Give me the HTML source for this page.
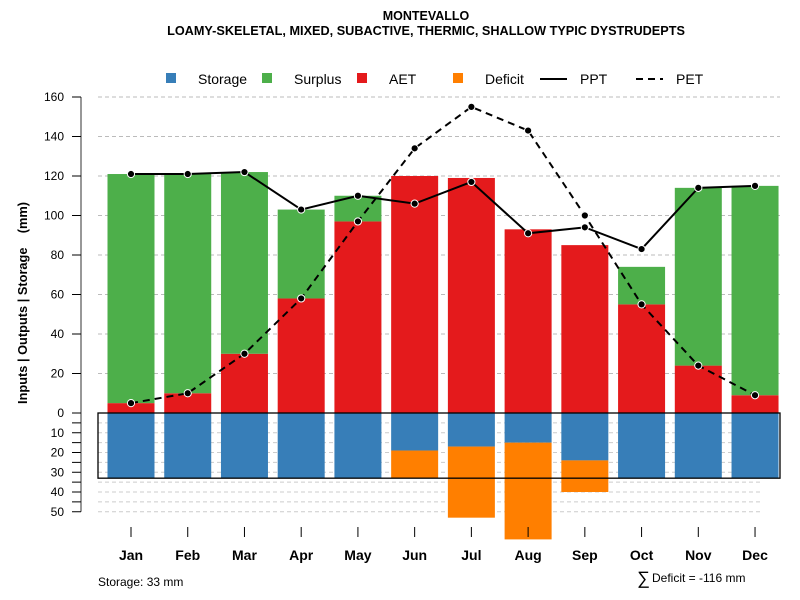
<!DOCTYPE html>
<html><head><meta charset="utf-8"><style>
body{margin:0;background:#fff;}
svg{display:block;font-family:"Liberation Sans",Arial,sans-serif;}
</style></head><body>
<svg id="chart" width="800" height="600">
<text x="426" y="20" font-size="12.5" font-weight="bold" text-anchor="middle">MONTEVALLO</text>
<text x="426" y="35" font-size="12.7" font-weight="bold" text-anchor="middle">LOAMY-SKELETAL, MIXED, SUBACTIVE, THERMIC, SHALLOW TYPIC DYSTRUDEPTS</text>
<g id="grid"></g><g id="bars"></g><g id="lines"></g><g id="axes"></g>
<g font-size="14">
<rect x="166" y="73" width="10" height="10" fill="#377eb8"/>
<text x="198" y="84">Storage</text>
<rect x="262" y="73" width="10" height="10" fill="#4daf4a"/>
<text x="294" y="84">Surplus</text>
<rect x="357" y="73" width="10" height="10" fill="#e41a1c"/>
<text x="389" y="84">AET</text>
<rect x="453" y="73" width="10" height="10" fill="#ff7f00"/>
<text x="485" y="84">Deficit</text>
<line x1="540" y1="79" x2="567" y2="79" stroke="#000" stroke-width="2"/>
<text x="580" y="84">PPT</text>
<line x1="636" y1="79" x2="663" y2="79" stroke="#000" stroke-width="2" stroke-dasharray="7,5"/>
<text x="676" y="84">PET</text>
</g>
<text transform="translate(27,303) rotate(-90)" font-size="12.8" font-weight="bold" text-anchor="middle" style="white-space:pre" xml:space="preserve">Inputs | Outputs | Storage    (mm)</text>
<text x="98" y="586" font-size="12">Storage: 33 mm</text>
<text x="637" y="584" font-size="18">∑</text>
<text x="652" y="582" font-size="12">Deficit = -116 mm</text>
</svg>
<script>
const months=["Jan","Feb","Mar","Apr","May","Jun","Jul","Aug","Sep","Oct","Nov","Dec"];
const aet=[5,10,30,58,97,120,119,93,85,55,24,9];
const surplus=[116,111,92,45,13,0,0,0,0,19,90,106];
const storage=[33,33,33,33,33,19,17,15,24,33,33,33];
const deficit=[0,0,0,0,0,14,36,49,16,0,0,0];
const ppt=[121,121,122,103,110,106,117,91,94,83,114,115];
const pet=[5,10,30,58,97,134,155,143,100,55,24,9];
const upTicks=[0,20,40,60,80,100,120,140,160];
const downTicks=[10,20,30,40,50];
const storageCap=33;
const NS="http://www.w3.org/2000/svg";
const y0=413,k=316/160;
const y=v=>y0-v*k;
const x=i=>131+i*56.73;
const bw=47;
function mk(p,t,a){const e=document.createElementNS(NS,t);for(const n in a)e.setAttribute(n,a[n]);p.appendChild(e);return e;}
const G=document.getElementById('grid'),B=document.getElementById('bars'),L=document.getElementById('lines'),A=document.getElementById('axes');
upTicks.forEach(v=>{const l=mk(G,'line',{x1:98,x2:780,y1:y(v),y2:y(v),stroke:'#bbb','stroke-dasharray':'4,3'});

});
for(let v=5;v<=50;v+=5){const l=mk(G,'line',{x1:98,x2:760,y1:y(-v),y2:y(-v),stroke:'#ccc','stroke-dasharray':'4,3'});

}
months.forEach((m,i)=>{const xl=x(i)-bw/2;
let r=mk(B,'rect',{x:xl,y:y(aet[i]),width:bw,height:aet[i]*k,fill:'#e41a1c'});


r=mk(B,'rect',{x:xl,y:y(aet[i]+surplus[i]),width:bw,height:surplus[i]*k,fill:'#4daf4a'});


r=mk(B,'rect',{x:xl,y:y0,width:bw,height:storage[i]*k,fill:'#377eb8'});


r=mk(B,'rect',{x:xl,y:y(-storage[i]),width:bw,height:deficit[i]*k,fill:'#ff7f00'});


const t=mk(A,'line',{x1:x(i),x2:x(i),y1:527,y2:537,stroke:'#000'});


const tx=mk(A,'text',{x:x(i),y:560,'font-size':14,'font-weight':'bold','text-anchor':'middle'});tx.textContent=m;


});
let box=mk(B,'rect',{x:98,y:y0,width:682,height:storageCap*k,fill:'none',stroke:'#000','stroke-width':1.3});


function series(arr,dash,name){
const p=mk(L,'polyline',{points:arr.map((v,i)=>x(i)+','+y(v)).join(' '),fill:'none',stroke:'#000','stroke-width':2,'stroke-dasharray':dash});


arr.forEach((v,i)=>{const c=mk(L,'circle',{cx:x(i),cy:y(v),r:3.6,fill:'#000',stroke:'#fff','stroke-width':1});

});}
series(pet,'7,5','pet');series(ppt,'none','ppt');
let ax=mk(A,'line',{x1:81,x2:81,y1:y(160),y2:y(-50),stroke:'#777','stroke-width':1.5});


upTicks.forEach(v=>{const t=mk(A,'line',{x1:72,x2:81,y1:y(v),y2:y(v),stroke:'#000'});


const tx=mk(A,'text',{x:64,y:y(v)+4,'font-size':12,'text-anchor':'end'});tx.textContent=v;

});
for(let v=5;v<=50;v+=5){const t=mk(A,'line',{x1:72,x2:81,y1:y(-v),y2:y(-v),stroke:'#000'});

}
downTicks.forEach(v=>{const tx=mk(A,'text',{x:64,y:y(-v)+4,'font-size':12,'text-anchor':'end'});tx.textContent=v;

});
</script>
</body></html>
